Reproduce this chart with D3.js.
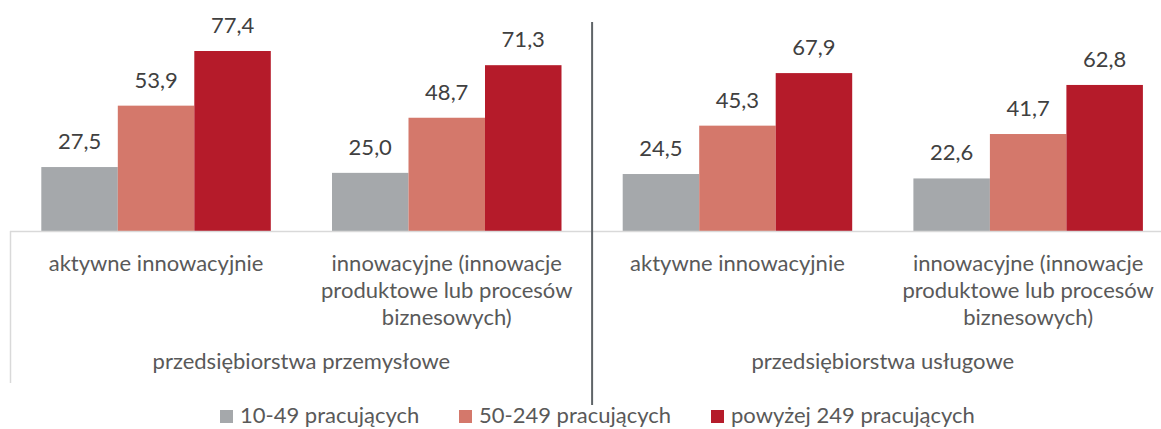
<!DOCTYPE html>
<html>
<head>
<meta charset="utf-8">
<script src="https://cdn.jsdelivr.net/npm/d3@7"></script>
<style>
  body { margin: 0; background: #fff; }
  svg text { font-family: Lato, "Open Sans", sans-serif; fill: #595959; }
</style>
</head>
<body>
<svg id="chart" width="1161" height="429"></svg>
<script>
// categories (inner level) and their outer groups
const categories = [
  "aktywne innowacyjnie|p",
  "innowacyjne (innowacje produktowe lub procesów biznesowych)|p",
  "aktywne innowacyjnie|u",
  "innowacyjne (innowacje produktowe lub procesów biznesowych)|u"
];
const categoryLines = [
  ["aktywne innowacyjnie"],
  ["innowacyjne (innowacje", "produktowe lub procesów", "biznesowych)"],
  ["aktywne innowacyjnie"],
  ["innowacyjne (innowacje", "produktowe lub procesów", "biznesowych)"]
];
const groups = ["przedsiębiorstwa przemysłowe", "przedsiębiorstwa usługowe"];
const series = ["10-49 pracujących", "50-249 pracujących", "powyżej 249 pracujących"];
const small = [27.5, 25.0, 24.5, 22.6];
const medium = [53.9, 48.7, 45.3, 41.7];
const large = [77.4, 71.3, 67.9, 62.8];
const colors = ["#a5a8ab", "#d4786b", "#b51b2a"];

const svg = d3.select("#chart");
const axisY = 231;

const x0 = d3.scaleBand().domain(categories).range([10.7, 1173.5]).paddingInner(0).paddingOuter(0);
const x1 = d3.scaleBand().domain(series).range([0, x0.bandwidth()]).paddingInner(0).paddingOuter(0.4);
const y = d3.scaleLinear().domain([0, 77.4]).range([axisY, 51]);

const values = [small, medium, large];
const fmt = v => d3.format(".1f")(v).replace(".", ",");

// bars
series.forEach((s, si) => {
  const g = svg.append("g");
  g.selectAll("rect").data(categories).enter().append("rect")
    .attr("x", c => x0(c) + x1(s))
    .attr("y", (c, i) => y(values[si][i]))
    .attr("width", x1.bandwidth())
    .attr("height", (c, i) => axisY - y(values[si][i]))
    .attr("fill", colors[si]);
  g.selectAll("text").data(categories).enter().append("text")
    .attr("x", c => x0(c) + x1(s) + x1.bandwidth() / 2)
    .attr("y", (c, i) => y(values[si][i]) - 18)
    .attr("text-anchor", "middle")
    .style("font-size", "22px")
    .style("fill", "#404040")
    .text((c, i) => fmt(values[si][i]));
});

// category axis
svg.append("line").attr("x1", 10).attr("x2", 1161).attr("y1", axisY + 0.5).attr("y2", axisY + 0.5)
  .attr("stroke", "#d9d9d9").attr("stroke-width", 1.5);
svg.append("line").attr("x1", 10.5).attr("x2", 10.5).attr("y1", axisY).attr("y2", 383)
  .attr("stroke", "#d9d9d9").attr("stroke-width", 1.5);

categories.forEach((c, i) => {
  const t = svg.append("text")
    .attr("x", x0(c) + x0.bandwidth() / 2)
    .attr("y", 271)
    .attr("text-anchor", "middle")
    .style("font-size", "22px");
  categoryLines[i].forEach((line, li) => {
    t.append("tspan").attr("x", x0(c) + x0.bandwidth() / 2).attr("dy", li === 0 ? 0 : 27).text(line);
  });
});

groups.forEach((g, gi) => {
  const a = x0(categories[gi * 2]);
  const b = x0(categories[gi * 2 + 1]) + x0.bandwidth();
  svg.append("text")
    .attr("x", (a + b) / 2)
    .attr("y", 369)
    .attr("text-anchor", "middle")
    .style("font-size", "22px")
    .text(g);
});

// separator between groups
const sep = x0(categories[2]);
svg.append("line").attr("x1", sep).attr("x2", sep).attr("y1", 22).attr("y2", 405)
  .attr("stroke", "#5f6468").attr("stroke-width", 2);

// legend
const legendX = [220, 459, 711];
const legend = svg.append("g");
series.forEach((s, i) => {
  legend.append("rect").attr("x", legendX[i]).attr("y", 410).attr("width", 13).attr("height", 13)
    .attr("fill", colors[i]);
  legend.append("text").attr("x", legendX[i] + 20).attr("y", 423)
    .style("font-size", "22px").text(s);
});
</script>
</body>
</html>
